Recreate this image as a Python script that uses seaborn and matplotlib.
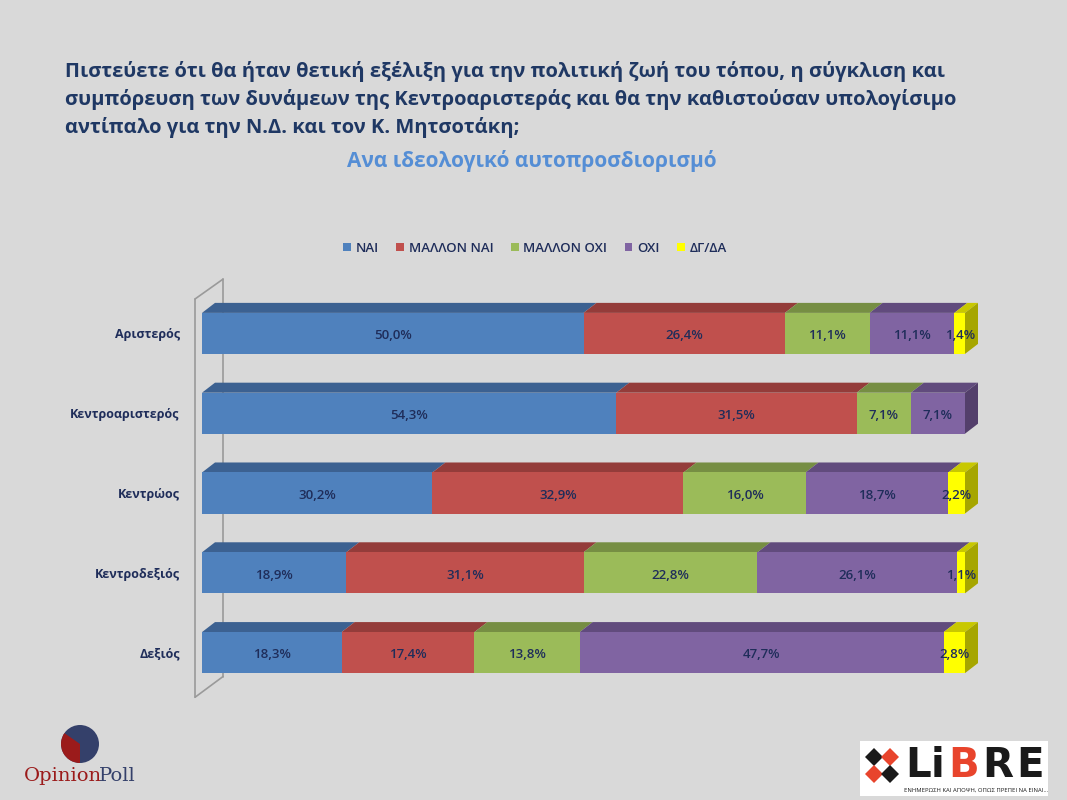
import matplotlib
matplotlib.use("Agg")
import matplotlib.pyplot as plt
from matplotlib.patches import Polygon, Patch, Wedge, Circle, Rectangle
import seaborn as sns
import pandas as pd

categories = ["Αριστερός", "Κεντροαριστερός", "Κεντρώος", "Κεντροδεξιός", "Δεξιός"]
series = ["ΝΑΙ", "ΜΑΛΛΟΝ ΝΑΙ", "ΜΑΛΛΟΝ ΟΧΙ", "ΟΧΙ", "ΔΓ/ΔΑ"]
nai = [50.0, 54.3, 30.2, 18.9, 18.3]
mallon_nai = [26.4, 31.5, 32.9, 31.1, 17.4]
mallon_oxi = [11.1, 7.1, 16.0, 22.8, 13.8]
oxi = [11.1, 7.1, 18.7, 26.1, 47.7]
dgda = [1.4, 0.0, 2.2, 1.1, 2.8]

front = ["#4f81bd", "#c0504d", "#9bbb59", "#8064a2", "#ffff00"]
top = ["#3c6191", "#943c3a", "#768e43", "#614b7d", "#c8c800"]
side = ["#35567f", "#7f3331", "#667a3a", "#533f6b", "#a6a600"]

title_col = "#1f3864"
label_col = "#1f2d5a"

sns.set_theme(style="white")
plt.rcParams["font.family"] = ["Open Sans", "DejaVu Sans"]

values = [nai, mallon_nai, mallon_oxi, oxi, dgda]
rows = []
for s, vals in zip(series, values):
    for c, v in zip(categories, vals):
        rows.append({"cat": c, "series": s, "value": v})
df = pd.DataFrame(rows)
df["series"] = pd.Categorical(df["series"], series, ordered=True)
df["cat"] = pd.Categorical(df["cat"], categories, ordered=True)
df = df.sort_values(["cat", "series"])
df["cum"] = df.groupby("cat", observed=True)["value"].cumsum()
df["start"] = df["cum"] - df["value"]

bg = "#d9d9d9"
fig = plt.figure(figsize=(10.67, 8), dpi=100, facecolor=bg)
ax = fig.add_axes([202 / 1067, 1 - 692.5 / 800, 763 / 1067, 399 / 800])
ax.set_facecolor(bg)

bar_h = 41 / 79.75
# stacked bars: draw cumulative totals from last series to first
for i in range(len(series) - 1, -1, -1):
    sub = df[df["series"] == series[i]]
    sns.barplot(data=sub, y="cat", x="cum", color=front[i], saturation=1,
                width=bar_h, orient="h", ax=ax, zorder=3, linewidth=0, edgecolor="none")

ax.set_xlim(0, 100)
ax.set_ylim(4.5, -0.5)

# 3D faces
dx = 13 / 7.63
dy = 10 / 79.75
for ci, c in enumerate(categories):
    sub = df[df["cat"] == c]
    yt = ci - bar_h / 2
    yb = ci + bar_h / 2
    last = sub[sub["value"] > 0].iloc[-1]
    for _, r in sub.iterrows():
        if r["value"] <= 0:
            continue
        k = series.index(r["series"])
        x0, x1 = r["start"], r["cum"]
        ax.add_patch(Polygon([(x0, yt), (x1, yt), (x1 + dx, yt - dy), (x0 + dx, yt - dy)],
                             closed=True, facecolor=top[k], edgecolor="none",
                             zorder=2, clip_on=False))
        ax.text((x0 + x1) / 2, ci + 0.03, f"{r['value']:.1f}%".replace(".", ","), ha="center",
                va="center", fontsize=9.5, fontweight="semibold", color=label_col, zorder=6)
    k = series.index(last["series"])
    x1 = last["cum"]
    ax.add_patch(Polygon([(x1, yt), (x1, yb), (x1 + dx, yb - dy), (x1 + dx, yt - dy)],
                         closed=True, facecolor=side[k], edgecolor="none",
                         zorder=2, clip_on=False))

# left wall of the 3D frame
wx0, wx1 = -7 / 7.63, 21 / 7.63
wall = dict(color="#9a9a9a", lw=1.2, clip_on=False, zorder=1)
ax.plot([wx0, wx0], [-0.431, 4.56], **wall)
ax.plot([wx1, wx1], [-0.68, 4.30], **wall)
ax.plot([wx0, wx1], [-0.431, -0.68], **wall)
ax.plot([wx0, wx1], [4.56, 4.30], **wall)

for sp in ax.spines.values():
    sp.set_visible(False)
ax.set_xticks([])
ax.set_xlabel("")
ax.set_ylabel("")
ax.tick_params(axis="y", length=0, pad=16)
for t in ax.get_yticklabels():
    t.set_fontsize(9)
    t.set_fontweight("bold")
    t.set_color(label_col)
    t.set_y(t.get_position()[1])

# legend
handles = [Patch(facecolor=front[i], edgecolor="none", label=series[i]) for i in range(len(series))]
leg = fig.legend(handles=handles, loc="center", bbox_to_anchor=(535 / 1067, 1 - 248 / 800),
                 ncol=5, frameon=False, fontsize=9.5, handlelength=0.6, handleheight=0.6,
                 handletextpad=0.35, columnspacing=1.3)
for t in leg.get_texts():
    t.set_color(label_col)
    t.set_fontweight("semibold")

# titles
title_lines = [
    "Πιστεύετε ότι θα ήταν θετική εξέλιξη για την πολιτική ζωή του τόπου, η σύγκλιση και",
    "συμπόρευση των δυνάμεων της Κεντροαριστεράς και θα την καθιστούσαν υπολογίσιμο",
    "αντίπαλο για την Ν.Δ. και τον Κ. Μητσοτάκη;",
]
for j, line in enumerate(title_lines):
    fig.text(65 / 1067, 1 - (72 + 28 * j) / 800, line, ha="left", va="center",
             fontsize=14.5, fontweight="bold", color=title_col)
fig.text(532 / 1067, 1 - 161 / 800, "Ανα ιδεολογικό αυτοπροσδιορισμό", ha="center",
         va="center", fontsize=15, fontweight="bold", color="#558ed5")

# logos
lax = fig.add_axes([0, 0, 1, 1], facecolor="none")
lax.set_xlim(0, 1067)
lax.set_ylim(800, 0)
lax.axis("off")
lax.add_patch(Circle((80, 744), 19, facecolor="#34406a", edgecolor="none"))
lax.add_patch(Wedge((80, 744), 19, 90, 215, facecolor="#9b1b1b", edgecolor="none"))
lax.text(24, 776, "Opinion", ha="left", va="center", fontsize=14,
         family="DejaVu Serif", color="#9b1b1b")
lax.text(99, 776, "Poll", ha="left", va="center", fontsize=14,
         family="DejaVu Serif", color="#34406a")

lax.add_patch(Rectangle((860, 741), 188, 55, facecolor="white", edgecolor="none"))
for (cx, cy, col) in [(874, 757, "#1a1a1a"), (890, 757, "#e8442c"),
                      (874, 774, "#e8442c"), (890, 774, "#1a1a1a")]:
    lax.add_patch(Polygon([(cx, cy - 9), (cx + 9, cy), (cx, cy + 9), (cx - 9, cy)],
                          closed=True, facecolor=col, edgecolor="none"))
for letter, lx, col in [("L", 918, "#1a1a1a"), ("i", 938, "#1a1a1a"), ("B", 964, "#e8442c"),
                        ("R", 998, "#1a1a1a"), ("E", 1030, "#1a1a1a")]:
    lax.text(lx, 766, letter, ha="center", va="center", fontsize=29, fontweight="heavy",
             family="DejaVu Sans", color=col)
lax.text(904, 790, "ΕΝΗΜΕΡΩΣΗ ΚΑΙ ΑΠΟΨΗ, ΟΠΩΣ ΠΡΕΠΕΙ ΝΑ ΕΙΝΑΙ...", ha="left",
         va="center", fontsize=4.2, color="#1a1a1a")

fig.savefig("out.png", dpi=100, facecolor=bg)
